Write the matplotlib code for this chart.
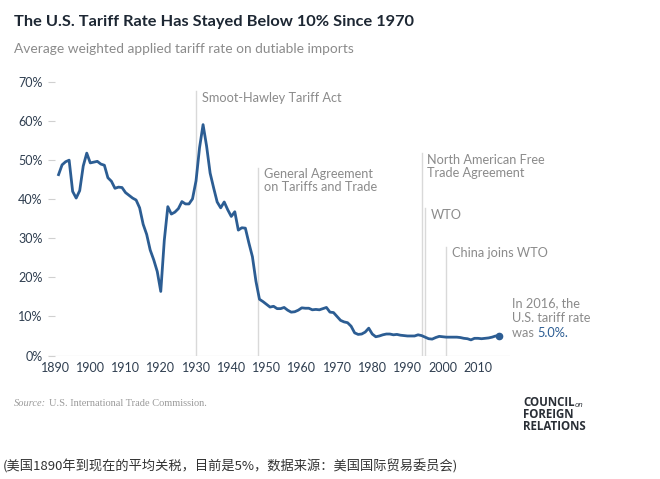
import matplotlib
matplotlib.use("Agg")
import matplotlib.pyplot as plt

# Average weighted applied tariff rate on dutiable imports (%)
years = list(range(1891, 2017))
rates = [
    46.3, 48.8, 49.6, 50.0, 42.0, 40.3, 42.2, 48.5, 51.8, 49.3,   # 1891-1900
    49.5, 49.7, 49.0, 48.7, 45.5, 44.6, 42.8, 43.1, 43.0, 41.7,   # 1901-1910
    41.0, 40.3, 39.8, 37.8, 33.6, 31.0, 27.0, 24.5, 21.5, 16.4,   # 1911-1920
    29.5, 38.1, 36.2, 36.7, 37.6, 39.4, 38.8, 38.8, 40.1, 44.7,   # 1921-1930
    53.2, 59.1, 53.6, 46.7, 42.9, 39.3, 37.8, 39.3, 37.3, 35.6,   # 1931-1940
    36.8, 32.1, 32.7, 32.6, 28.8, 25.3, 19.0, 14.4, 13.8, 13.1,   # 1941-1950
    12.4, 12.6, 12.0, 12.0, 12.3, 11.6, 11.1, 11.2, 11.6, 12.2,   # 1951-1960
    12.1, 12.1, 11.7, 11.8, 11.7, 12.0, 12.3, 11.1, 11.0, 10.0,   # 1961-1970
    9.0, 8.6, 8.4, 7.5, 5.8, 5.4, 5.5, 6.0, 7.0, 5.5,             # 1971-1980
    4.8, 5.0, 5.3, 5.5, 5.5, 5.3, 5.4, 5.2, 5.1, 5.0,             # 1981-1990
    5.0, 5.0, 5.3, 5.1, 4.7, 4.3, 4.2, 4.6, 4.9, 4.8,             # 1991-2000
    4.7, 4.7, 4.7, 4.7, 4.6, 4.4, 4.3, 4.0, 4.4, 4.4,             # 2001-2010
    4.3, 4.4, 4.5, 4.7, 5.0, 5.0,                                 # 2011-2016
]

event_years = [1930, 1947.7, 1994, 1995, 2001]
event_tops = [67.8, 48.0, 51.8, 37.7, 27.8]
event_labels = ["Smoot-Hawley Tariff Act", "General Agreement\non Tariffs and Trade",
                "North American Free\nTrade Agreement", "WTO", "China joins WTO"]
event_label_y = [65.9, 44.8, 48.4, 36.0, 26.3]

x_ticks = list(range(1890, 2011, 10))
y_ticks = [0, 10, 20, 30, 40, 50, 60, 70]

BLUE = "#2c5d93"
GREY_TXT = "#8b8b8b"
VLINE = "#d9d9d9"
TICK_TXT = "#2f3e50"
FONT = "Lato"

fig = plt.figure(figsize=(6.6, 4.79), dpi=100)
ax = fig.add_axes([0.0727, 0.2578, 0.6996, 0.5954])
ax.set_xlim(1888, 2019)
ax.set_ylim(0, 73)

for sp in ax.spines.values():
    sp.set_visible(False)
ax.axhline(0, color="#ececec", lw=1, zorder=0)

for yr, top in zip(event_years, event_tops):
    ax.plot([yr, yr], [0, top], color=VLINE, lw=1, zorder=1)
for yr, ly, lab in zip(event_years, event_label_y, event_labels):
    ax.annotate(lab, xy=(yr, ly), xytext=(4, 0), textcoords="offset points",
                ha="left", va="center", fontsize=9.2, color=GREY_TXT,
                family=FONT, linespacing=1.15)

ax.plot(years, rates, color=BLUE, lw=2.0, solid_joinstyle="round", zorder=3)
ax.plot(years[-1], rates[-1], "o", color=BLUE, ms=4.5, zorder=4)

# end note
note_x = years[-1] + 3.6
ax.text(note_x, 13.4, "In 2016, the", fontsize=9.2, color=GREY_TXT, family=FONT,
        va="center", ha="left")
ax.text(note_x, 9.6, "U.S. tariff rate", fontsize=9.2, color=GREY_TXT, family=FONT,
        va="center", ha="left")
t = ax.text(note_x, 5.8, "was ", fontsize=9.2, color=GREY_TXT, family=FONT,
            va="center", ha="left")
ax.annotate(f"{rates[-1]:.1f}%.", xy=(1, 0.5), xycoords=t, fontsize=9.2, color=BLUE,
            family=FONT, va="center", ha="left")

ax.set_xticks(x_ticks)
ax.set_xticklabels([str(x) for x in x_ticks])
ax.set_yticks(y_ticks)
ax.set_yticklabels([f"{y}%" for y in y_ticks])
ax.tick_params(axis="x", length=0, pad=5, labelsize=9, labelcolor=TICK_TXT)
ax.tick_params(axis="y", direction="in", length=5, width=0.8, color="#d0d0d0",
               pad=4, labelsize=9, labelcolor=TICK_TXT)
for lab in ax.get_xticklabels() + ax.get_yticklabels():
    lab.set_family(FONT)

fig.text(14 / 660, 1 - 22 / 479, "The U.S. Tariff Rate Has Stayed Below 10% Since 1970",
         fontsize=11.8, weight="bold", color="#1d2733", family=FONT, va="center")
fig.text(14 / 660, 1 - 49 / 479, "Average weighted applied tariff rate on dutiable imports",
         fontsize=9.9, color=GREY_TXT, family=FONT, va="center")

fig.text(14 / 660, 1 - 404 / 479, "Source:", fontsize=7.5, style="italic",
         color="#9a9a9a", family="Liberation Serif", va="center")
fig.text(49 / 660, 1 - 404 / 479, "U.S. International Trade Commission.", fontsize=7.5,
         color="#9a9a9a", family="Liberation Serif", va="center")

# CFR wordmark
logo_kw = dict(fontsize=8.3, weight="bold", color="#2a2f36", family="Open Sans",
               va="center")
c = fig.text(523 / 660, 1 - 403 / 479, "COUNCIL", **logo_kw)
fig.text(523 / 660, 1 - 415 / 479, "FOREIGN", **logo_kw)
fig.text(523 / 660, 1 - 427 / 479, "RELATIONS", **logo_kw)
ax.annotate("on", xy=(1, 0.3), xycoords=c, fontsize=5.5, style="italic",
            color="#2a2f36", family="Open Sans", va="center", ha="left")

fig.text(3 / 660, 1 - 466 / 479,
         "(美国1890年到现在的平均关税，目前是5%，数据来源：美国国际贸易委员会)",
         fontsize=9.5, color="#333333", family=["Noto Sans CJK SC", "DejaVu Sans"],
         va="center")

fig.savefig("out.png", dpi=100, facecolor="white")
